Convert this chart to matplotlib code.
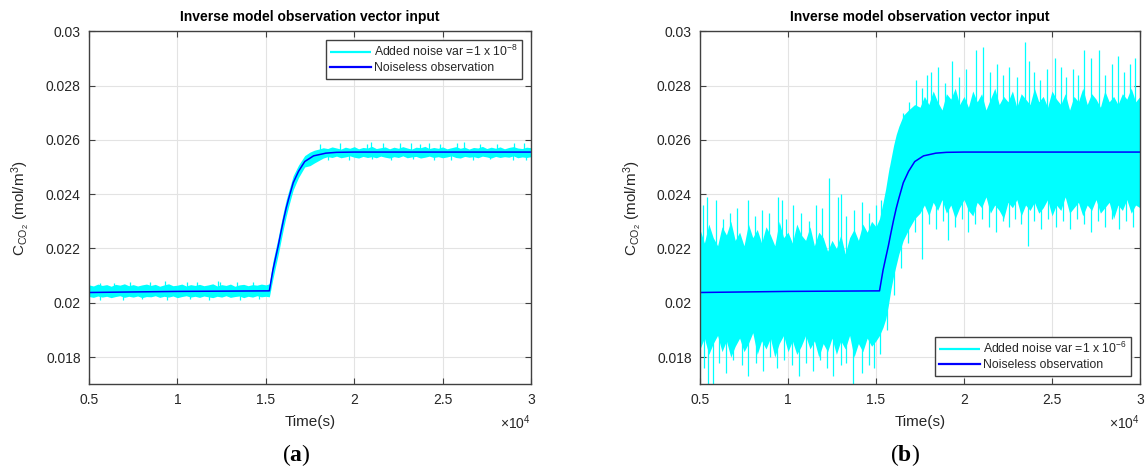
import numpy as np
import matplotlib
matplotlib.use("Agg")
import matplotlib.pyplot as plt

plt.rcParams['font.family'] = ['Liberation Sans', 'DejaVu Sans']
plt.rcParams['mathtext.fontset'] = 'custom'
plt.rcParams['mathtext.rm'] = 'Liberation Sans'
plt.rcParams['mathtext.bf'] = 'Liberation Serif:bold'

# ---------------- data ----------------
# noiseless CO2 concentration response (time in s, concentration in mol/m^3)
t_obs = [5000, 10000, 15200, 15400, 15550, 15700, 15850, 16000, 16150, 16300,
         16550, 16850, 17200, 17700, 18400, 19000, 20000, 25000, 30000]
c_obs = [0.02038, 0.02042, 0.02044, 0.02120, 0.02165, 0.02209, 0.02258, 0.02305,
         0.02348, 0.02385, 0.02442, 0.02484, 0.02520, 0.02541, 0.02551, 0.02554,
         0.02555, 0.02555, 0.02555]

# sample times of the noisy-band envelopes: before, during and after the step
t_band = (list(range(5000, 15001, 250))
          + [15200, 15400, 15550, 15700, 15850, 16000, 16150, 16300, 16550, 16850, 17200]
          + list(range(17500, 30001, 250)))

# (a) noise variance 1e-8 : upper / lower envelope of the dense noise band
hi_a = [0.02066, 0.02062, 0.02069, 0.02064, 0.02067, 0.02061, 0.02068, 0.02065, 0.02070, 0.02063,
        0.02067, 0.02062, 0.02066, 0.02069, 0.02064, 0.02068, 0.02061, 0.02066, 0.02070, 0.02063,
        0.02065, 0.02069, 0.02062, 0.02067, 0.02064, 0.02068, 0.02063, 0.02066, 0.02070, 0.02062,
        0.02067, 0.02064, 0.02069, 0.02061, 0.02066, 0.02068, 0.02063, 0.02067, 0.02065, 0.02069,
        0.02066,
        0.02070, 0.02152, 0.02197, 0.02241, 0.02290, 0.02336, 0.02378, 0.02413, 0.02468, 0.02507, 0.02542,
        0.02555, 0.02562, 0.02566, 0.02571, 0.02568, 0.02574, 0.02570, 0.02566, 0.02573, 0.02569,
        0.02575, 0.02567, 0.02572, 0.02570, 0.02576, 0.02568, 0.02571, 0.02574, 0.02567, 0.02573,
        0.02569, 0.02575, 0.02570, 0.02566, 0.02573, 0.02571, 0.02576, 0.02568, 0.02572, 0.02569,
        0.02574, 0.02567, 0.02571, 0.02575, 0.02569, 0.02573, 0.02566, 0.02572, 0.02570, 0.02576,
        0.02568, 0.02573, 0.02569, 0.02574, 0.02567, 0.02572, 0.02575, 0.02570, 0.02568, 0.02573,
        0.02571]
lo_a = [0.02023, 0.02020, 0.02025, 0.02021, 0.02024, 0.02019, 0.02023, 0.02026, 0.02020, 0.02024,
        0.02021, 0.02025, 0.02019, 0.02023, 0.02022, 0.02026, 0.02020, 0.02024, 0.02021, 0.02025,
        0.02019, 0.02023, 0.02026, 0.02021, 0.02024, 0.02020, 0.02025, 0.02022, 0.02019, 0.02024,
        0.02021, 0.02026, 0.02020, 0.02023, 0.02025, 0.02019, 0.02024, 0.02021, 0.02026, 0.02022,
        0.02024,
        0.02022, 0.02088, 0.02133, 0.02177, 0.02226, 0.02274, 0.02318, 0.02357, 0.02416, 0.02461, 0.02500,
        0.02505, 0.02515, 0.02524, 0.02533, 0.02538, 0.02535, 0.02540, 0.02534, 0.02537, 0.02541,
        0.02536, 0.02533, 0.02539, 0.02535, 0.02538, 0.02534, 0.02540, 0.02536, 0.02533, 0.02538,
        0.02535, 0.02541, 0.02534, 0.02537, 0.02539, 0.02533, 0.02536, 0.02540, 0.02535, 0.02538,
        0.02534, 0.02537, 0.02541, 0.02535, 0.02533, 0.02539, 0.02536, 0.02538, 0.02534, 0.02540,
        0.02537, 0.02533, 0.02539, 0.02535, 0.02538, 0.02536, 0.02541, 0.02534, 0.02537, 0.02535,
        0.02538]
# (a) isolated excursions beyond the band
spike_up_t_a = [5600, 6400, 7320, 8450, 9300, 10540, 11110, 12300, 12410, 13370, 14300,
                18070, 19200, 20720, 20950, 21630, 22590, 23210, 23720, 24230, 24850,
                25810, 26210, 27110, 28070, 29040, 29600]
spike_up_v_a = [0.02074, 0.02072, 0.02078, 0.02077, 0.02079, 0.02076, 0.02078, 0.02081, 0.02077, 0.02078, 0.02075,
                0.02586, 0.02588, 0.02585, 0.02592, 0.02587, 0.02589, 0.02590, 0.02584, 0.02588, 0.02586,
                0.02589, 0.02591, 0.02586, 0.02585, 0.02590, 0.02587]
spike_dn_t_a = [5620, 6920, 8000, 9410, 10710, 11800, 13540, 14600,
                18500, 19700, 21000, 22100, 23300, 24500, 25500, 26700, 27700, 29000, 29700]
spike_dn_v_a = [0.02012, 0.02010, 0.02014, 0.02011, 0.02013, 0.02012, 0.02010, 0.02014,
                0.02527, 0.02524, 0.02528, 0.02526, 0.02529, 0.02525, 0.02527, 0.02524, 0.02528, 0.02526, 0.02525]

# (b) noise variance 1e-6 : upper / lower envelope of the dense noise band
hi_b = [0.0227, 0.0222, 0.0229, 0.0224, 0.0221, 0.0228, 0.0225, 0.0230, 0.0223, 0.0226,
        0.0221, 0.0229, 0.0224, 0.0227, 0.0222, 0.0228, 0.0225, 0.0221, 0.0230, 0.0224,
        0.0226, 0.0222, 0.0229, 0.0225, 0.0223, 0.0228, 0.0221, 0.0226, 0.0224, 0.0219,
        0.0223, 0.0220, 0.0225, 0.0218, 0.0224, 0.0227, 0.0223, 0.0229, 0.0226, 0.0230,
        0.0228,
        0.0231, 0.0237, 0.0242, 0.0248, 0.0253, 0.0258, 0.0262, 0.0265, 0.0269, 0.0271, 0.0273,
        0.0272, 0.0276, 0.0273, 0.0278, 0.0274, 0.0271, 0.0277, 0.0275, 0.0279, 0.0273,
        0.0276, 0.0272, 0.0278, 0.0274, 0.0277, 0.0271, 0.0275, 0.0279, 0.0273, 0.0276,
        0.0274, 0.0278, 0.0272, 0.0277, 0.0275, 0.0273, 0.0279, 0.0274, 0.0276, 0.0272,
        0.0278, 0.0275, 0.0273, 0.0277, 0.0271, 0.0276, 0.0274, 0.0279, 0.0273, 0.0277,
        0.0275, 0.0272, 0.0278, 0.0274, 0.0276, 0.0273, 0.0277, 0.0275, 0.0279, 0.0274,
        0.0276]
lo_b = [0.0183, 0.0187, 0.0181, 0.0185, 0.0188, 0.0182, 0.0186, 0.0180, 0.0184, 0.0187,
        0.0182, 0.0185, 0.0189, 0.0181, 0.0186, 0.0183, 0.0187, 0.0180, 0.0185, 0.0188,
        0.0182, 0.0186, 0.0181, 0.0184, 0.0188, 0.0183, 0.0186, 0.0180, 0.0185, 0.0182,
        0.0187, 0.0181, 0.0186, 0.0183, 0.0188, 0.0180, 0.0185, 0.0182, 0.0187, 0.0184,
        0.0186,
        0.0188, 0.0191, 0.0194, 0.0199, 0.0205, 0.0210, 0.0214, 0.0218, 0.0223, 0.0227, 0.0231,
        0.0233, 0.0236, 0.0232, 0.0237, 0.0234, 0.0238, 0.0233, 0.0236, 0.0231, 0.0235,
        0.0238, 0.0234, 0.0232, 0.0237, 0.0235, 0.0239, 0.0233, 0.0236, 0.0234, 0.0231,
        0.0237, 0.0235, 0.0238, 0.0232, 0.0236, 0.0234, 0.0237, 0.0233, 0.0235, 0.0238,
        0.0232, 0.0236, 0.0234, 0.0239, 0.0233, 0.0235, 0.0237, 0.0232, 0.0236, 0.0234,
        0.0238, 0.0233, 0.0235, 0.0237, 0.0231, 0.0236, 0.0234, 0.0238, 0.0233, 0.0236,
        0.0235]
# (b) isolated excursions beyond the band
spike_up_t_b = [5150, 5370, 5900, 6300, 6700, 7100, 7700, 8100, 8500, 8900, 9450, 9660,
                9900, 10300, 10750, 11200, 11600, 11950, 12350, 12850, 13000, 13300,
                13750, 14200, 14600, 15000, 15300,
                15800, 16250, 16550, 16900, 17300, 17600, 17900, 18150, 18550, 18900,
                19300, 19700, 20100, 20700, 21100, 21500, 21850, 22200, 22550, 23000,
                23450, 23700, 24000, 24300, 24700, 25150, 25500, 25800, 26200, 26500,
                26800, 27200, 27650, 28000, 28400, 28750, 29100, 29450, 29700]
spike_up_v_b = [0.0236, 0.0239, 0.0238, 0.0231, 0.0233, 0.0235, 0.0238, 0.0232, 0.0234, 0.0233, 0.0239, 0.0238,
                0.0231, 0.0236, 0.0233, 0.0230, 0.0236, 0.0235, 0.0246, 0.0239, 0.0240, 0.0232,
                0.0234, 0.0237, 0.0233, 0.0236, 0.0238,
                0.0250, 0.0262, 0.0270, 0.0274, 0.0282, 0.0279, 0.0284, 0.0285, 0.0287, 0.0281,
                0.0289, 0.0283, 0.0286, 0.0293, 0.0294, 0.0285, 0.0288, 0.0284, 0.0287, 0.0283,
                0.0296, 0.0289, 0.0285, 0.0282, 0.0286, 0.0290, 0.0287, 0.0283, 0.0286, 0.0284,
                0.0293, 0.0290, 0.0293, 0.0284, 0.0288, 0.0291, 0.0285, 0.0288, 0.0290]
spike_dn_t_b = [5200, 5440, 5720, 6100, 6500, 6900, 7400, 7700, 8200, 8600, 9000, 9400,
                9800, 10200, 10600, 11000, 11400, 11800, 12200, 12580, 13000, 13300, 13710,
                14200, 14600, 14900, 15250, 15650,
                16000, 16400, 16800, 17200, 17600, 18000, 18400, 18800, 19100, 19500,
                19900, 20250, 20600, 21000, 21400, 21800, 22200, 22550, 22900, 23250,
                23640, 24000, 24400, 24800, 25200, 25600, 26000, 26400, 26800, 27200,
                27600, 28000, 28400, 28800, 29200, 29600]
spike_dn_v_b = [0.0176, 0.0168, 0.0167, 0.0178, 0.0174, 0.0179, 0.0177, 0.0173, 0.0178, 0.0175, 0.0180, 0.0176,
                0.0179, 0.0177, 0.0173, 0.0178, 0.0175, 0.0179, 0.0176, 0.0173, 0.0177, 0.0178, 0.0167,
                0.0174, 0.0177, 0.0176, 0.0181, 0.0190,
                0.0203, 0.0213, 0.0222, 0.0226, 0.0216, 0.0229, 0.0227, 0.0230, 0.0223, 0.0228,
                0.0231, 0.0226, 0.0229, 0.0231, 0.0228, 0.0226, 0.0230, 0.0228, 0.0231, 0.0229,
                0.0221, 0.0230, 0.0227, 0.0231, 0.0228, 0.0230, 0.0227, 0.0231, 0.0229, 0.0226,
                0.0230, 0.0228, 0.0231, 0.0227, 0.0230, 0.0228]

x_ticks = [5000, 10000, 15000, 20000, 25000, 30000]
x_tick_labels = ['0.5', '1', '1.5', '2', '2.5', '3']
y_ticks = [0.018, 0.020, 0.022, 0.024, 0.026, 0.028, 0.030]
y_tick_labels = ['0.018', '0.02', '0.022', '0.024', '0.026', '0.028', '0.03']

noise_labels = [r'Added noise var =1 x $\mathregular{10^{-8}}$',
                r'Added noise var =1 x $\mathregular{10^{-6}}$']
clean_label = 'Noiseless observation'
title_text = 'Inverse model observation vector input'
panel_tags = ['a', 'b']

# ---------------- figure ----------------
W, H = 1145, 467
fig = plt.figure(figsize=(W / 100, H / 100), dpi=100)
ax_a = fig.add_axes([89 / W, 1 - 384.3 / H, 442 / W, 353.1 / H])
ax_b = fig.add_axes([700 / W, 1 - 384.3 / H, 440 / W, 353.1 / H])

CYAN = '#00ffff'
BLUE = '#0000ff'
AX_COL = '#404040'
TXT_COL = '#262626'

panels = [
    (ax_a, hi_a, lo_a, spike_up_t_a, spike_up_v_a, spike_dn_t_a, spike_dn_v_a, noise_labels[0], 'upper right'),
    (ax_b, hi_b, lo_b, spike_up_t_b, spike_up_v_b, spike_dn_t_b, spike_dn_v_b, noise_labels[1], 'lower right'),
]

for ax, hi, lo, ut, uv, dt, dv, nlab, loc in panels:
    # noisy observation: dense band plus individual excursions
    ax.fill_between(t_band, lo, hi, color=CYAN, lw=0, zorder=2)
    base_u = np.interp(ut, t_obs, c_obs)
    base_d = np.interp(dt, t_obs, c_obs)
    ax.vlines(ut, base_u, uv, color=CYAN, lw=0.9, zorder=2, label=nlab)
    ax.vlines(dt, dv, base_d, color=CYAN, lw=0.9, zorder=2)
    ax.plot(t_obs, c_obs, color=BLUE, lw=1.1, zorder=3, label=clean_label)

    ax.set_xlim(5000, 30000)
    ax.set_ylim(0.017, 0.030)
    ax.set_xticks(x_ticks)
    ax.set_xticklabels(x_tick_labels)
    ax.set_yticks(y_ticks)
    ax.set_yticklabels(y_tick_labels)
    ax.grid(True, color='#e3e3e3', lw=0.8)
    ax.set_axisbelow(True)
    ax.tick_params(direction='in', top=True, right=True, length=4, width=0.8,
                   color=AX_COL, labelcolor=TXT_COL, labelsize=10, pad=6)
    for sp in ax.spines.values():
        sp.set_color(AX_COL)
        sp.set_linewidth(1.0)
        sp.set_zorder(5)

    ax.set_title(title_text, fontsize=10, fontweight='bold', color='#000000', pad=7)
    ax.set_xlabel('Time(s)', fontsize=11, color=TXT_COL)
    ax.xaxis.set_label_coords(0.5, -0.088)
    ax.set_ylabel(r'$\mathregular{C_{CO_{2}}}$ (mol/m$\mathregular{^{3}}$)', fontsize=11, color=TXT_COL)
    ax.yaxis.set_label_coords(-0.128, 0.5)
    ax.text(1.0, -0.11, r'×10$\mathregular{^{4}}$', transform=ax.transAxes,
            ha='right', va='center', fontsize=10, color=TXT_COL)

    leg = ax.legend(loc=loc, fontsize=8.8, frameon=True, fancybox=False,
                    framealpha=1, edgecolor=AX_COL, borderpad=0.35,
                    labelspacing=0.25, handlelength=3.3, handletextpad=0.3,
                    borderaxespad=0.7)
    leg.get_frame().set_linewidth(1.0)
    for h in leg.legend_handles:
        h.set_linewidth(1.6)
    for txt in leg.get_texts():
        txt.set_color(TXT_COL)

for tag, xc in zip(panel_tags, [296, 905]):
    fig.text(xc / W, 1 - 455 / H, r'($\mathbf{' + tag + r'}$)', ha='center', va='center',
             fontsize=17, family='Liberation Serif', color='#000000')

fig.savefig('out.png', dpi=100)
